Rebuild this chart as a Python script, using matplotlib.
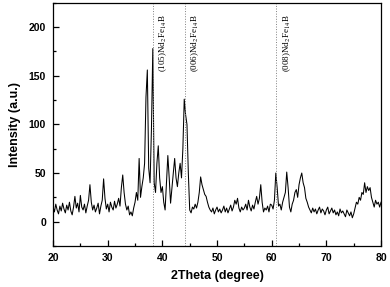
import numpy as np
import matplotlib.pyplot as plt
from matplotlib.ticker import MultipleLocator

plt.rcParams['mathtext.fontset'] = 'stix'

# XRD pattern, every 0.25 degree from 20 to 80
two_theta = np.arange(20, 80.001, 0.25)
intensity = [
    15, 10, 18, 12,   8, 16, 11, 19,   13, 9, 17, 12,   20, 11, 7, 15,
    26, 14, 19, 10,   27, 15, 12, 18,   9, 16, 22, 38,   20, 12, 17, 10,
    14, 19, 8, 16,    22, 44, 24, 13,   18, 10, 20, 15,  12, 21, 14, 18,
    24, 16, 35, 48,   30, 18, 12, 16,   7, 10, 6, 14,    20, 30, 22, 65,
    25, 36, 45, 60,   128, 156, 55, 40, 95, 178, 40, 30, 60, 78, 45, 30,
    36, 20, 12, 40,   68, 45, 19, 35,   50, 65, 45, 36,  50, 60, 45, 75,
    126, 110, 100, 50, 12, 9, 15, 13,  18, 14, 20, 30,  46, 38, 33, 28,
    26, 20, 15, 12,   10, 14, 8, 12,   15, 10, 13, 9,   12, 16, 10, 14,
    9, 13, 17, 11,    15, 22, 18, 24,  14, 10, 15, 12,  14, 18, 12, 22,
    15, 11, 17, 13,   20, 26, 18, 24,  38, 20, 10, 14,  12, 16, 10, 18,
    17, 13, 22, 50,   35, 16, 18, 12,  20, 25, 30, 51,  35, 15, 10, 18,
    22, 30, 33, 25,   38, 45, 50, 40,  35, 24, 20, 15,  12, 9, 14, 10,
    13, 8, 12, 15,    9, 13, 11, 7,    12, 15, 8, 11,   14, 9, 12, 7,
    10, 6, 13, 9,     11, 8, 5, 12,    9, 6, 10, 4,     8, 14, 20, 18,
    25, 22, 30, 28,   40, 30, 36, 32,  35, 25, 20, 15,  22, 18, 20, 15,
    20,
]

peak_pos = [38.2, 44.05, 60.8]
peak_labels = ["(105)Nd$_2$Fe$_{14}$B", "(006)Nd$_2$Fe$_{14}$B", "(008)Nd$_2$Fe$_{14}$B"]

fig = plt.figure(figsize=(3.9, 2.87), dpi=100)
ax = fig.add_axes([0.136, 0.143, 0.841, 0.847])

ax.plot(two_theta, intensity, color='black', lw=0.75)

for pos, lab in zip(peak_pos, peak_labels):
    ax.axvline(pos, color='gray', ls=':', lw=0.7)
    ax.text(pos + 1.95, 213, lab, rotation=90, ha='center', va='top',
            fontsize=6.5, family='Liberation Serif')

ax.set_xlim(20, 80)
ax.set_ylim(-25, 225)
ax.xaxis.set_major_locator(MultipleLocator(10))
ax.xaxis.set_minor_locator(MultipleLocator(5))
ax.yaxis.set_major_locator(MultipleLocator(50))
ax.yaxis.set_minor_locator(MultipleLocator(25))
ax.tick_params(which='both', direction='in', labelsize=7.5, width=0.9)
ax.tick_params(which='major', length=4, pad=5)
ax.tick_params(which='minor', length=2)
for lbl in ax.get_xticklabels() + ax.get_yticklabels():
    lbl.set_fontweight('bold')
    lbl.set_family('Liberation Sans')
for s in ax.spines.values():
    s.set_linewidth(0.9)

ax.set_xlabel("2Theta (degree)", fontsize=9, fontweight='bold', family='Liberation Sans', labelpad=5)
ax.set_ylabel("Intensity (a.u.)", fontsize=9, fontweight='bold', family='Liberation Sans', labelpad=6)

fig.savefig("out.png", dpi=100)
